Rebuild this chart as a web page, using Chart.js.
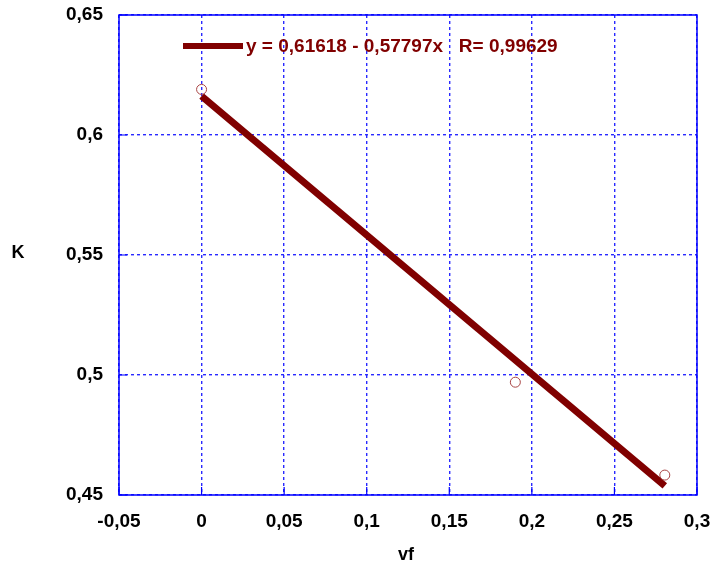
<!DOCTYPE html>
<html>
<head>
<meta charset="utf-8">
<script src="https://cdn.jsdelivr.net/npm/chart.js@4/dist/chart.umd.min.js"></script>
<style>
  html, body { margin: 0; padding: 0; background: #fff; }
  #wrap { width: 712px; height: 575px; }
</style>
</head>
<body>
<div id="wrap"><canvas id="chart"></canvas></div>
<script>
// measured points
const vf = [0, 0.19, 0.2805];
const kValues = [0.619, 0.497, 0.4583];

// regression line, read at both ends
const fitX = [0, 0.2805];
const fitY = [0.6162, 0.4538];
const fitLabel = "y = 0,61618 - 0,57797x   R= 0,99629";

const xTitle = "vf";
const yTitle = "K";

const BLUE = "#0000ff";
const GRID_BLUE = "#2a2aff";
const DARK_RED = "#800000";
const FONT = "'Liberation Sans', Arial, sans-serif";

const fmt = (v) => String(Math.round(v * 100) / 100).replace(".", ",");

// border box, inward ticks, legend and upright axis titles
const framePlugin = {
  id: "frame",
  afterDraw(chart) {
    const ctx = chart.ctx;
    const { left, right, top, bottom } = chart.chartArea;
    const xs = chart.scales.x;
    const ys = chart.scales.y;
    ctx.save();
    ctx.strokeStyle = BLUE;
    ctx.lineWidth = 1.5;
    ctx.strokeRect(left, top, right - left, bottom - top);
    ctx.lineWidth = 1.2;
    ctx.beginPath();
    xs.ticks.forEach((t) => {
      const px = xs.getPixelForValue(t.value);
      ctx.moveTo(px, bottom);
      ctx.lineTo(px, bottom - 8);
    });
    ys.ticks.forEach((t) => {
      const py = ys.getPixelForValue(t.value);
      ctx.moveTo(left, py);
      ctx.lineTo(left + 8, py);
    });
    ctx.stroke();

    // legend
    const ly = top + 31;
    ctx.strokeStyle = DARK_RED;
    ctx.lineWidth = 6;
    ctx.beginPath();
    ctx.moveTo(left + 64, ly);
    ctx.lineTo(left + 124, ly);
    ctx.stroke();
    ctx.fillStyle = DARK_RED;
    ctx.font = "bold 19px " + FONT;
    ctx.textBaseline = "middle";
    ctx.textAlign = "left";
    ctx.fillText(fitLabel, left + 127, ly + 1);

    // axis titles
    ctx.fillStyle = "#000";
    ctx.font = "bold 18px " + FONT;
    ctx.textAlign = "center";
    ctx.fillText(yTitle, 18, (top + bottom) / 2 - 2);
    ctx.fillText(xTitle, (left + right) / 2 - 2, bottom + 60);
    ctx.restore();
  },
};

function renderChart(canvas) {
  return new Chart(canvas, {
    type: "scatter",
    data: {
      datasets: [
        {
          label: "data",
          data: vf.map((x, i) => ({ x: x, y: kValues[i] })),
          showLine: false,
          pointStyle: "circle",
          pointRadius: 5,
          pointBorderWidth: 1,
          pointBorderColor: "#a84444",
          pointBackgroundColor: "rgba(0,0,0,0)",
          order: 0,
        },
        {
          label: fitLabel,
          data: fitX.map((x, i) => ({ x: x, y: fitY[i] })),
          showLine: true,
          borderColor: DARK_RED,
          borderWidth: 7,
          borderCapStyle: "butt",
          pointRadius: 0,
          order: 1,
        },
      ],
    },
    options: {
      responsive: true,
      maintainAspectRatio: false,
      animation: false,
      layout: { padding: { left: 0, top: 15, right: 15, bottom: 0 } },
      plugins: {
        legend: { display: false },
        tooltip: { enabled: false },
      },
      scales: {
        x: {
          type: "linear",
          min: -0.05,
          max: 0.3,
          ticks: {
            stepSize: 0.05,
            color: "#000",
            padding: 15,
            font: { family: FONT, size: 19, weight: "bold" },
            callback: (v) => fmt(v),
          },
          grid: {
            color: GRID_BLUE,
            lineWidth: 1.4,
            drawTicks: false,
          },
          border: { display: false, dash: [3, 3] },
          afterFit: (scale) => {
            scale.height = 80;
            scale.paddingLeft = 0;
            scale.paddingRight = 0;
          },
        },
        y: {
          type: "linear",
          min: 0.45,
          max: 0.65,
          ticks: {
            stepSize: 0.05,
            color: "#000",
            padding: 16,
            font: { family: FONT, size: 19, weight: "bold" },
            callback: (v) => fmt(v),
          },
          grid: {
            color: GRID_BLUE,
            lineWidth: 1.4,
            drawTicks: false,
          },
          border: { display: false, dash: [3, 3] },
          afterFit: (scale) => {
            scale.width = 119;
            scale.paddingTop = 0;
            scale.paddingBottom = 0;
          },
        },
      },
    },
    plugins: [framePlugin],
  });
}

renderChart(document.getElementById("chart"));
</script>
</body>
</html>
